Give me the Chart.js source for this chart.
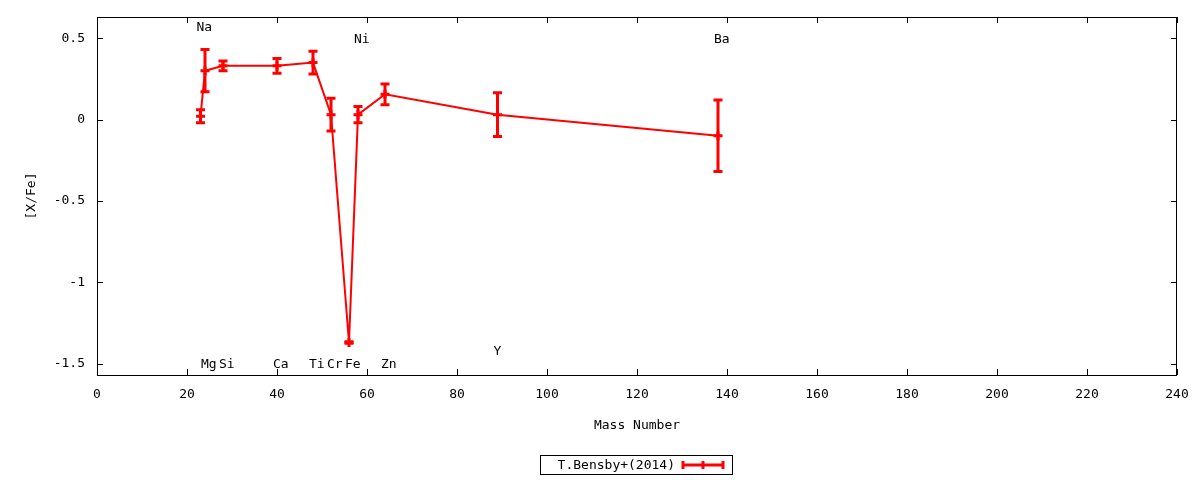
<!DOCTYPE html>
<html>
<head>
<meta charset="utf-8">
<script src="https://cdn.jsdelivr.net/npm/chart.js@4.4.1/dist/chart.umd.min.js"></script>
<style>
  html, body { margin: 0; padding: 0; background: #fff; }
  #wrap { width: 1200px; height: 480px; }
</style>
</head>
<body>
<div id="wrap"><canvas id="chart"></canvas></div>
<script>
// abundances per element, x = mass number
const elements    = ['Na', 'Mg', 'Si', 'Ca', 'Ti', 'Cr', 'Fe', 'Ni', 'Zn', 'Y', 'Ba'];
const massNumbers = [23, 24, 28, 40, 48, 52, 56, 58, 64, 89, 138];
const xFe         = [0.02, 0.30, 0.33, 0.33, 0.35, 0.03, -1.37, 0.03, 0.155, 0.03, -0.10];
const xFeErr      = [0.04, 0.13, 0.03, 0.045, 0.07, 0.10, 0.005, 0.05, 0.064, 0.135, 0.22];
// where the element names sit (y in [X/Fe] units)
const labelY      = [0.57, -1.5, -1.5, -1.5, -1.5, -1.5, -1.5, 0.5, -1.5, -1.42, 0.5];

const xTicks = [0, 20, 40, 60, 80, 100, 120, 140, 160, 180, 200, 220, 240];
const yTicks = [-1.5, -1, -0.5, 0, 0.5];
const seriesName = 'T.Bensby+(2014)';

const RED = '#ff0000';
const FONT = '13px "DejaVu Sans Mono"';

const gnuplotLook = {
  id: 'gnuplotLook',
  beforeDatasetsDraw(chart) {
    const { ctx, scales: { x, y } } = chart;
    ctx.save();
    ctx.strokeStyle = RED;
    ctx.lineWidth = 3;
    ctx.lineCap = 'butt';
    massNumbers.forEach((m, i) => {
      const px = x.getPixelForValue(m);
      const top = y.getPixelForValue(xFe[i] + xFeErr[i]);
      const bot = y.getPixelForValue(xFe[i] - xFeErr[i]);
      ctx.beginPath();
      ctx.moveTo(px, top); ctx.lineTo(px, bot);
      ctx.moveTo(px - 4.5, top); ctx.lineTo(px + 4.5, top);
      ctx.moveTo(px - 4.5, bot); ctx.lineTo(px + 4.5, bot);
      ctx.stroke();
    });
    ctx.restore();
  },
  afterDraw(chart) {
    const { ctx, chartArea: a, scales: { x, y } } = chart;
    ctx.save();
    // border + inward ticks on all four sides
    ctx.strokeStyle = '#000';
    ctx.lineWidth = 1;
    ctx.strokeRect(a.left + 0.5, a.top + 0.5, a.right - a.left - 1, a.bottom - a.top);
    ctx.beginPath();
    xTicks.forEach(v => {
      const px = Math.round(x.getPixelForValue(v)) + 0.5;
      ctx.moveTo(px, a.bottom); ctx.lineTo(px, a.bottom - 6);
      ctx.moveTo(px, a.top); ctx.lineTo(px, a.top + 6);
    });
    yTicks.forEach(v => {
      const py = Math.round(y.getPixelForValue(v)) + 0.5;
      ctx.moveTo(a.left, py); ctx.lineTo(a.left + 6, py);
      ctx.moveTo(a.right, py); ctx.lineTo(a.right - 6, py);
    });
    ctx.stroke();

    // element names
    ctx.fillStyle = '#000';
    ctx.font = FONT;
    ctx.textAlign = 'left';
    ctx.textBaseline = 'middle';
    elements.forEach((el, i) => {
      ctx.fillText(el, x.getPixelForValue(massNumbers[i]) - 4, y.getPixelForValue(labelY[i]) + 1);
    });

    // key box
    const cx = (a.left + a.right) / 2;
    const bx = cx - 97, by = 455.5, bw = 192, bh = 19;
    ctx.strokeRect(bx + 0.5, by, bw, bh);
    ctx.textAlign = 'right';
    ctx.fillText(seriesName, bx + 135, by + bh / 2 + 1);
    const sx0 = bx + 143, sx1 = bx + 183, sy = by + bh / 2;
    ctx.strokeStyle = RED;
    ctx.lineWidth = 3;
    ctx.beginPath();
    ctx.moveTo(sx0, sy); ctx.lineTo(sx1, sy);
    ctx.moveTo(sx0, sy - 4); ctx.lineTo(sx0, sy + 4);
    ctx.moveTo(sx1, sy - 4); ctx.lineTo(sx1, sy + 4);
    ctx.moveTo((sx0 + sx1) / 2, sy - 4); ctx.lineTo((sx0 + sx1) / 2, sy + 4);
    ctx.stroke();
    ctx.restore();
  }
};

new Chart(document.getElementById('chart').getContext('2d'), {
  type: 'scatter',
  data: {
    datasets: [{
      label: seriesName,
      data: massNumbers.map((m, i) => ({ x: m, y: xFe[i] })),
      showLine: true,
      borderColor: RED,
      borderWidth: 2,
      tension: 0,
      pointStyle: 'cross',
      pointRadius: 4.5,
      pointBorderWidth: 3,
      pointBorderColor: RED,
      pointBackgroundColor: RED
    }]
  },
  options: {
    responsive: true,
    maintainAspectRatio: false,
    animation: false,
    layout: { padding: { top: 17, right: 23, bottom: 43, left: 0 } },
    plugins: {
      legend: { display: false },
      tooltip: { enabled: false }
    },
    scales: {
      x: {
        type: 'linear',
        min: 0,
        max: 240,
        afterBuildTicks: s => { s.ticks = xTicks.map(v => ({ value: v })); },
        afterFit: s => { s.height = 62; s.paddingLeft = 0; s.paddingRight = 0; },
        grid: { display: false, drawTicks: false },
        border: { display: false },
        ticks: {
          color: '#000',
          font: { family: 'DejaVu Sans Mono', size: 13 },
          padding: 12,
          maxRotation: 0,
          callback: v => String(v)
        },
        title: {
          display: true,
          text: 'Mass Number',
          color: '#000',
          font: { family: 'DejaVu Sans Mono', size: 13 },
          padding: { top: 4, bottom: 4 }
        }
      },
      y: {
        type: 'linear',
        min: -1.57,
        max: 0.63,
        afterBuildTicks: s => { s.ticks = yTicks.map(v => ({ value: v })); },
        afterFit: s => { s.width = 97; s.paddingTop = 0; s.paddingBottom = 0; },
        grid: { display: false, drawTicks: false },
        border: { display: false },
        ticks: {
          color: '#000',
          font: { family: 'DejaVu Sans Mono', size: 13 },
          padding: 12,
          callback: v => String(v)
        },
        title: {
          display: true,
          text: '[X/Fe]',
          color: '#000',
          font: { family: 'DejaVu Sans Mono', size: 13 },
          padding: { top: 24, bottom: 0 }
        }
      }
    }
  },
  plugins: [gnuplotLook]
});
</script>
</body>
</html>
